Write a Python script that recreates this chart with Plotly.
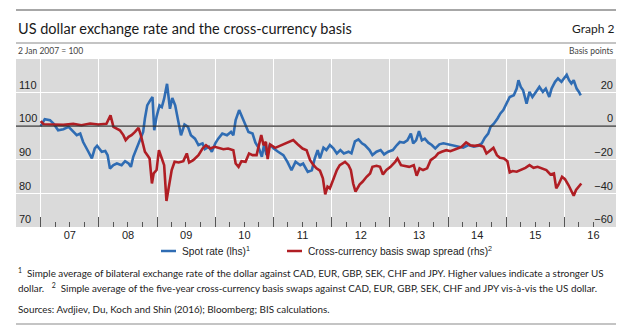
import pandas as pd
import plotly.graph_objects as go

# ---- data (decimal years; 2 Jan 2007 = 100 for the spot rate, basis points for the spread) ----
spot_years = [
    2007.00, 2007.07, 2007.16, 2007.22, 2007.30, 2007.39, 2007.48, 2007.53, 2007.62, 2007.68,
    2007.73, 2007.82, 2007.88, 2007.93, 2007.97, 2008.05, 2008.11, 2008.15, 2008.19, 2008.25,
    2008.31, 2008.39, 2008.45, 2008.51, 2008.55, 2008.59, 2008.65, 2008.71, 2008.76, 2008.79,
    2008.83, 2008.88, 2008.92, 2008.95, 2008.99, 2009.04, 2009.08, 2009.12, 2009.17, 2009.22,
    2009.26, 2009.31, 2009.37, 2009.41, 2009.47, 2009.53, 2009.58, 2009.65, 2009.71, 2009.78,
    2009.82, 2009.89, 2009.94, 2010.00, 2010.05, 2010.12, 2010.20, 2010.27, 2010.31, 2010.35,
    2010.41, 2010.45, 2010.51, 2010.57, 2010.64, 2010.69, 2010.75, 2010.80, 2010.84, 2010.88,
    2010.94, 2011.00, 2011.08, 2011.17, 2011.24, 2011.31, 2011.38, 2011.46, 2011.51, 2011.59,
    2011.66, 2011.71, 2011.76, 2011.80, 2011.86, 2011.91, 2011.97, 2012.03, 2012.09, 2012.15,
    2012.21, 2012.29, 2012.34, 2012.40, 2012.46, 2012.52, 2012.57, 2012.65, 2012.70, 2012.77,
    2012.84, 2012.90, 2012.97, 2013.05, 2013.12, 2013.17, 2013.24, 2013.30, 2013.36, 2013.40,
    2013.45, 2013.50, 2013.55, 2013.60, 2013.66, 2013.72, 2013.78, 2013.85, 2013.92, 2014.01,
    2014.09, 2014.18, 2014.26, 2014.35, 2014.44, 2014.52, 2014.58, 2014.63, 2014.69, 2014.73,
    2014.79, 2014.85, 2014.90, 2014.95, 2015.01, 2015.06, 2015.13, 2015.18, 2015.21, 2015.25,
    2015.29, 2015.35, 2015.40, 2015.45, 2015.51, 2015.57, 2015.63, 2015.68, 2015.74, 2015.78,
    2015.84, 2015.89, 2015.95, 2016.00, 2016.04, 2016.08, 2016.12, 2016.16, 2016.21, 2016.25,
    2016.28,
]
spot_rate = [
    100.0, 102.1, 101.8, 100.8, 98.8, 99.1, 99.8, 98.8, 97.3, 97.8,
    95.3, 92.4, 90.4, 93.4, 94.2, 92.4, 92.6, 91.4, 87.4, 88.4,
    88.9, 88.4, 89.6, 88.9, 87.9, 90.9, 93.4, 95.8, 98.3, 102.3,
    106.2, 107.7, 108.7, 98.8, 102.8, 106.2, 105.7, 108.2, 112.6, 105.2,
    108.4, 106.2, 101.3, 97.3, 100.5, 99.8, 97.3, 96.3, 94.4, 94.9,
    93.2, 93.9, 92.4, 94.9, 96.3, 97.8, 97.3, 98.3, 97.3, 101.8,
    104.8, 103.3, 100.8, 98.3, 97.8, 95.1, 93.4, 90.9, 94.6, 91.4,
    94.6, 93.4, 92.4, 91.4, 89.4, 86.9, 89.4, 88.4, 88.9, 86.4,
    86.9, 90.4, 92.9, 90.4, 93.6, 92.9, 94.4, 93.4, 91.9, 92.9,
    91.9, 92.4, 91.9, 95.5, 96.1, 94.9, 94.4, 92.9, 91.4, 92.4,
    92.9, 91.6, 92.4, 92.9, 94.4, 95.3, 95.1, 95.8, 97.8, 94.9,
    95.8, 98.5, 95.8, 96.3, 95.1, 94.4, 93.4, 94.6, 94.9, 94.6,
    94.2, 93.9, 93.6, 94.4, 93.9, 94.2, 94.9, 96.5, 97.8, 99.8,
    100.8, 102.3, 103.8, 104.8, 106.7, 108.7, 109.2, 111.2, 113.7, 111.7,
    110.7, 106.7, 110.2, 108.7, 110.2, 111.7, 110.2, 111.2, 108.7, 111.2,
    113.2, 114.2, 113.2, 114.2, 115.3, 113.7, 112.7, 113.7, 111.2, 110.2,
    109.2,
]

basis_years = [
    2007.00, 2007.05, 2007.22, 2007.39, 2007.56, 2007.70, 2007.85, 2007.99, 2008.13, 2008.20,
    2008.25, 2008.31, 2008.36, 2008.42, 2008.46, 2008.51, 2008.56, 2008.62, 2008.68, 2008.72,
    2008.75, 2008.79, 2008.83, 2008.87, 2008.91, 2008.94, 2008.99, 2009.03, 2009.08, 2009.12,
    2009.16, 2009.20, 2009.25, 2009.30, 2009.37, 2009.45, 2009.51, 2009.55, 2009.62, 2009.71,
    2009.78, 2009.84, 2009.91, 2009.99, 2010.05, 2010.14, 2010.22, 2010.31, 2010.35, 2010.40,
    2010.45, 2010.52, 2010.58, 2010.64, 2010.71, 2010.79, 2010.83, 2010.87, 2010.90, 2010.94,
    2011.03, 2011.11, 2011.20, 2011.28, 2011.34, 2011.42, 2011.50, 2011.57, 2011.63, 2011.69,
    2011.74, 2011.80, 2011.85, 2011.89, 2011.93, 2011.97, 2012.03, 2012.09, 2012.14, 2012.23,
    2012.29, 2012.33, 2012.37, 2012.41, 2012.48, 2012.53, 2012.60, 2012.66, 2012.70, 2012.77,
    2012.83, 2012.88, 2012.94, 2013.01, 2013.09, 2013.13, 2013.19, 2013.26, 2013.33, 2013.41,
    2013.46, 2013.51, 2013.57, 2013.64, 2013.70, 2013.78, 2013.83, 2013.89, 2013.97, 2014.04,
    2014.10, 2014.16, 2014.23, 2014.31, 2014.38, 2014.46, 2014.53, 2014.61, 2014.66, 2014.72,
    2014.78, 2014.84, 2014.89, 2014.96, 2015.02, 2015.06, 2015.11, 2015.18, 2015.25, 2015.33,
    2015.40, 2015.47, 2015.54, 2015.62, 2015.69, 2015.76, 2015.82, 2015.86, 2015.90, 2015.96,
    2016.01, 2016.07, 2016.12, 2016.16, 2016.20, 2016.24, 2016.29,
]
basis_spread = [
    3.0, 1.2, 1.0, 0.8, 1.4, 0.6, 1.6, 1.0, 1.4, 6.5,
    -0.4, -1.4, -2.4, -5.3, -8.3, -6.3, -5.3, -3.4, -1.0, -5.3,
    -10.3, -15.2, -17.2, -19.2, -34.1, -28.1, -26.1, -14.3, -19.2, -23.2,
    -44.5, -37.0, -26.1, -21.2, -21.6, -20.8, -16.2, -21.6, -20.2, -17.2,
    -13.3, -11.3, -13.3, -12.3, -12.9, -13.7, -13.3, -14.3, -22.2, -24.2,
    -20.8, -21.2, -16.2, -17.2, -17.2, -5.3, -11.3, -9.3, -19.6, -10.9,
    -12.9, -11.7, -10.3, -8.9, -8.3, -10.9, -13.3, -14.3, -20.2, -23.2,
    -25.1, -26.5, -31.0, -40.6, -36.0, -37.0, -31.0, -26.1, -23.2, -21.2,
    -23.2, -26.1, -34.1, -39.0, -34.7, -33.1, -30.1, -28.1, -24.2, -23.6,
    -24.2, -28.7, -26.1, -24.2, -21.2, -19.2, -23.2, -23.6, -24.2, -23.2,
    -29.5, -25.1, -26.1, -25.1, -20.2, -18.2, -16.2, -15.2, -14.3, -14.9,
    -13.9, -13.3, -12.3, -9.7, -11.3, -11.7, -11.3, -12.3, -16.2, -14.3,
    -12.9, -17.2, -18.8, -19.2, -20.8, -27.5, -26.7, -27.1, -26.1, -24.8,
    -23.2, -24.8, -24.2, -25.1, -26.1, -28.7, -28.1, -37.0, -34.7, -30.1,
    -31.5, -35.0, -39.0, -41.4, -38.0, -36.0, -34.1,
]

left_ticks = [70, 80, 90, 100, 110]
right_ticks = [-60, -40, -20, 0, 20]

BLUE = "#2f6cb3"
RED = "#b01e24"


def to_dates(years):
    out = []
    for y in years:
        yr = int(y)
        start = pd.Timestamp(year=yr, month=1, day=1)
        end = pd.Timestamp(year=yr + 1, month=1, day=1)
        out.append(start + (end - start) * (y - yr))
    return out


# ---- page geometry (pixels) ----
W, H = 640, 334
L, R, T, B = 16, 24, 59, 107
PW, PH = W - L - R, H - T - B
X0, X1 = 16, 616          # left / right edge of the text block and rules


def fx(x):
    return (x - L) / PW


def fy(y):
    return (H - B - y) / PH


fig = go.Figure()
fig.add_trace(go.Scatter(
    x=to_dates(spot_years), y=spot_rate, mode="lines",
    line=dict(color=BLUE, width=2.6), name="Spot rate (lhs)", yaxis="y",
    showlegend=False,
))
fig.add_trace(go.Scatter(
    x=to_dates(basis_years), y=basis_spread, mode="lines",
    line=dict(color=RED, width=2.6), name="Cross-currency basis swap spread (rhs)",
    yaxis="y2", showlegend=False,
))

narrow = "Liberation Sans Narrow, Arial Narrow, Liberation Sans, sans-serif"
tick_font = dict(family=narrow, size=11, color="#222")
text_font = "Lato, Open Sans, sans-serif"

fig.update_layout(
    width=W, height=H,
    margin=dict(l=L, r=R, t=T, b=B),
    paper_bgcolor="white",
    plot_bgcolor="#dadada",
    xaxis=dict(
        type="date",
        range=["2006-07-30", "2016-11-20"],
        dtick="M12", tick0="2007-01-01",
        tickformat="%y", ticklabelmode="period",
        ticks="inside", ticklen=10, tickwidth=1, tickcolor="#555",
        minor=dict(dtick="M3", tick0="2007-01-01", ticks="inside", ticklen=5,
                   tickwidth=1, tickcolor="#555", showgrid=False),
        showgrid=True, gridcolor="white", gridwidth=1.2,
        showline=False, zeroline=False,
        tickfont=tick_font,
    ),
    yaxis=dict(
        range=[70, 120], tickvals=left_ticks,
        ticklabelposition="inside top", ticks="",
        showgrid=True, gridcolor="white", gridwidth=1.2,
        zeroline=False, showline=False,
        tickfont=tick_font,
    ),
    yaxis2=dict(
        range=[-60, 40], tickvals=right_ticks, overlaying="y", side="right",
        ticklabelposition="inside top", ticks="",
        showgrid=False, zeroline=False, showline=False,
        tickfont=tick_font,
    ),
    shapes=[
        # index level 100 / zero basis line
        dict(type="line", xref="paper", yref="y", x0=0, x1=1, y0=100, y1=100,
             line=dict(color="#333", width=1.2)),
        # header and footer rules
        dict(type="line", xref="paper", yref="paper", x0=fx(X0), x1=fx(X1),
             y0=fy(10), y1=fy(10), line=dict(color="#8a8a8a", width=1.5)),
        dict(type="line", xref="paper", yref="paper", x0=fx(X0), x1=fx(X1),
             y0=fy(43), y1=fy(43), line=dict(color="#8a8a8a", width=1.2)),
        dict(type="line", xref="paper", yref="paper", x0=fx(X0), x1=fx(X1),
             y0=fy(324), y1=fy(324), line=dict(color="#8a8a8a", width=1.2)),
        # legend keys
        dict(type="line", xref="paper", yref="paper", x0=fx(161), x1=fx(176),
             y0=fy(251), y1=fy(251), line=dict(color=BLUE, width=2.5)),
        dict(type="line", xref="paper", yref="paper", x0=fx(287), x1=fx(302),
             y0=fy(251), y1=fy(251), line=dict(color=RED, width=2.5)),
    ],
)

annotations = [
    dict(text="US dollar exchange rate and the cross-currency basis", x=fx(X0), y=fy(29),
         xanchor="left", yanchor="middle", font=dict(family=text_font, size=14.5, color="#1a1a1a")),
    dict(text="Graph 2", x=fx(X1), y=fy(29), xanchor="right", yanchor="middle",
         font=dict(family=text_font, size=12, color="#1a1a1a")),
    dict(text="2 Jan 2007 = 100", x=fx(X0), y=fy(51), xanchor="left", yanchor="middle",
         font=dict(family=text_font, size=8.5, color="#444")),
    dict(text="Basis points", x=fx(X1), y=fy(51), xanchor="right", yanchor="middle",
         font=dict(family=text_font, size=8.5, color="#444")),
    dict(text="Spot rate (lhs)<sup>1</sup>", x=fx(180), y=fy(251), xanchor="left",
         yanchor="middle", font=dict(family=narrow, size=10.2, color="#222")),
    dict(text="Cross-currency basis swap spread (rhs)<sup>2</sup>", x=fx(306), y=fy(251),
         xanchor="left", yanchor="middle", font=dict(family=narrow, size=10.2, color="#222")),
    dict(text="<sup>1</sup>  Simple average of bilateral exchange rate of the dollar against CAD, EUR, GBP, "
              "SEK, CHF and JPY. Higher values indicate a stronger US",
         x=fx(X0), y=fy(272), xanchor="left", yanchor="middle",
         font=dict(family=text_font, size=9.85, color="#222")),
    dict(text="dollar.   <sup>2</sup>  Simple average of the five-year cross-currency basis swaps against "
              "CAD, EUR, GBP, SEK, CHF and JPY vis-à-vis the US dollar.",
         x=fx(X0), y=fy(287), xanchor="left", yanchor="middle",
         font=dict(family=text_font, size=9.85, color="#222")),
    dict(text="Sources: Avdjiev, Du, Koch and Shin (2016); Bloomberg; BIS calculations.",
         x=fx(X0), y=fy(309), xanchor="left", yanchor="middle",
         font=dict(family=text_font, size=9.85, color="#222")),
]
for a in annotations:
    a.update(xref="paper", yref="paper", showarrow=False)
fig.update_layout(annotations=annotations)

fig.write_html("out.html")
